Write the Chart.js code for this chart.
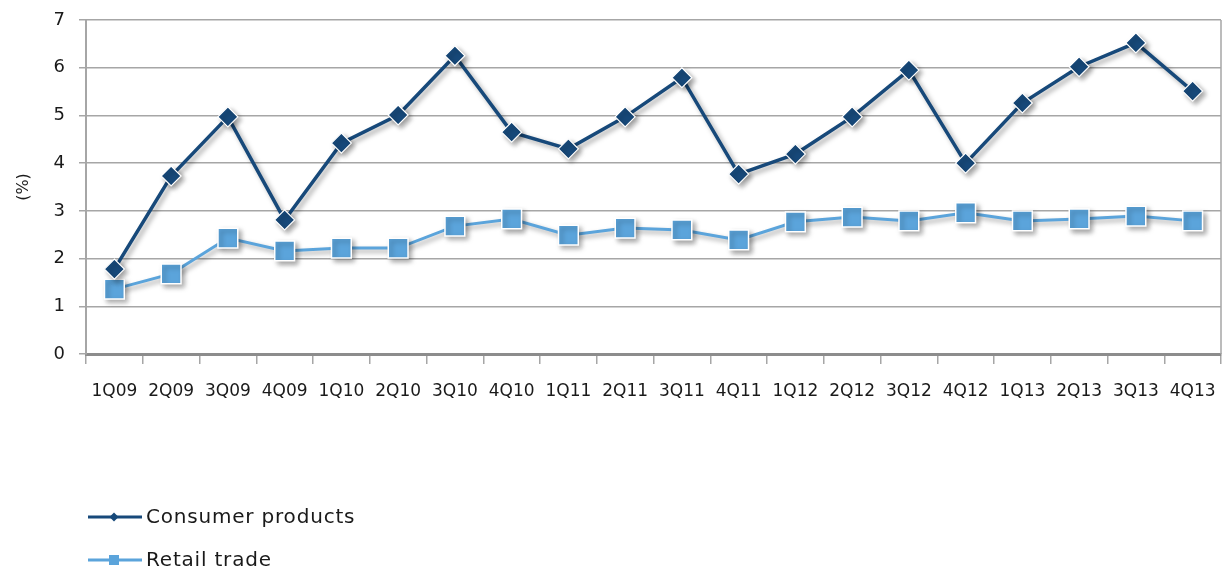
<!DOCTYPE html>
<html>
<head>
<meta charset="utf-8">
<script src="https://cdn.jsdelivr.net/npm/chart.js@4/dist/chart.umd.min.js"></script>
<style>
  html, body { margin: 0; padding: 0; background: #fff; overflow: hidden; }
  #wrap { width: 1222px; height: 580px; position: relative; }
</style>
</head>
<body>
<div id="wrap"><canvas id="growthChart"></canvas></div>
<script>
// quarterly growth, %
const quarters = [
  "1Q09", "2Q09", "3Q09", "4Q09", "1Q10", "2Q10", "3Q10", "4Q10", "1Q11", "2Q11",
  "3Q11", "4Q11", "1Q12", "2Q12", "3Q12", "4Q12", "1Q13", "2Q13", "3Q13", "4Q13"
];
const consumerProducts = [
  1.78, 3.73, 4.97, 2.81, 4.42, 5.01, 6.25, 4.65, 4.30, 4.97,
  5.79, 3.77, 4.19, 4.97, 5.95, 4.00, 5.26, 6.02, 6.52, 5.51
];
const retailTrade = [
  1.36, 1.68, 2.43, 2.16, 2.22, 2.22, 2.68, 2.83, 2.49, 2.64,
  2.60, 2.39, 2.77, 2.87, 2.79, 2.96, 2.79, 2.83, 2.89, 2.79
];
const yTicks = [0, 1, 2, 3, 4, 5, 6, 7];

const DARK = "#17497a";
const LIGHT = "#5ba4db";
const FONT = "'DejaVu Sans', sans-serif";

// soft drop shadow under lines and markers
const shadowPlugin = {
  id: "shadow",
  beforeDatasetsDraw(chart) {
    const ctx = chart.ctx;
    ctx.save();
    ctx.shadowColor = "rgba(0,0,0,0.35)";
    ctx.shadowBlur = 5;
    ctx.shadowOffsetX = 3;
    ctx.shadowOffsetY = 3;
  },
  afterDatasetsDraw(chart) {
    chart.ctx.restore();
  }
};

// right border + legend stacked under the plot
const frameLegendPlugin = {
  id: "frameLegend",
  afterDraw(chart) {
    const ctx = chart.ctx;
    const area = chart.chartArea;
    ctx.save();
    ctx.strokeStyle = "#a6a6a6";
    ctx.lineWidth = 1.5;
    ctx.beginPath();
    ctx.moveTo(area.right, area.top);
    ctx.lineTo(area.right, area.bottom);
    ctx.stroke();

    const rows = [517, 560];
    chart.data.datasets.forEach((ds, i) => {
      const y = rows[i];
      ctx.strokeStyle = ds.borderColor;
      ctx.lineWidth = 3;
      ctx.beginPath();
      ctx.moveTo(88, y);
      ctx.lineTo(142, y);
      ctx.stroke();
      ctx.fillStyle = ds.pointBackgroundColor;
      ctx.beginPath();
      if (ds.pointStyle === "rectRot") {
        ctx.moveTo(114, y - 4.5);
        ctx.lineTo(118.5, y);
        ctx.lineTo(114, y + 4.5);
        ctx.lineTo(109.5, y);
        ctx.closePath();
      } else {
        ctx.rect(109, y - 5, 10, 10);
      }
      ctx.fill();
      ctx.fillStyle = "#1a1a1a";
      ctx.font = "20px " + FONT;
      ctx.letterSpacing = "0.8px";
      ctx.textBaseline = "middle";
      ctx.fillText(ds.label, 146, y + 1);
    });
    ctx.restore();
  }
};

new Chart(document.getElementById("growthChart"), {
  type: "line",
  data: {
    labels: quarters,
    datasets: [
      {
        label: "Consumer products",
        data: consumerProducts,
        borderColor: DARK,
        borderWidth: 3.5,
        pointStyle: "rectRot",
        pointRadius: 10,
        pointBackgroundColor: DARK,
        pointBorderColor: "#ffffff",
        pointBorderWidth: 1.2,
        tension: 0
      },
      {
        label: "Retail trade",
        data: retailTrade,
        borderColor: LIGHT,
        borderWidth: 3,
        pointStyle: "rect",
        pointRadius: 14,
        pointBackgroundColor: LIGHT,
        pointBorderColor: "#ffffff",
        pointBorderWidth: 1.5,
        tension: 0
      }
    ]
  },
  options: {
    responsive: true,
    maintainAspectRatio: false,
    animation: false,
    layout: {
      autoPadding: false,
      padding: { top: 20, right: 1, left: 0, bottom: 0 }
    },
    plugins: {
      legend: { display: false },
      tooltip: { enabled: false }
    },
    scales: {
      x: {
        offset: true,
        afterFit: s => {
          s.height = 226;
          s.paddingLeft = 0;
          s.paddingRight = 0;
        },
        grid: {
          offset: true,
          drawOnChartArea: false,
          drawTicks: true,
          tickLength: 10,
          color: "#a6a6a6",
          lineWidth: 1.5
        },
        border: { color: "#8c8c8c", width: 3 },
        ticks: {
          autoSkip: false,
          maxRotation: 0,
          padding: 17,
          color: "#1a1a1a",
          font: { family: FONT, size: 17 }
        }
      },
      y: {
        min: 0,
        max: 7,
        afterFit: s => {
          s.width = 86;
          s.paddingTop = 0;
          s.paddingBottom = 0;
        },
        afterBuildTicks: s => { s.ticks = yTicks.map(v => ({ value: v })); },
        grid: {
          color: "#a6a6a6",
          lineWidth: 1.5,
          tickLength: 7
        },
        border: { color: "#a6a6a6", width: 2 },
        ticks: {
          padding: 14,
          color: "#1a1a1a",
          font: { family: FONT, size: 18 }
        },
        title: {
          display: true,
          text: "(%)",
          color: "#1a1a1a",
          font: { family: FONT, size: 16 },
          padding: { top: 14, bottom: 0 }
        }
      }
    }
  },
  plugins: [shadowPlugin, frameLegendPlugin]
});
</script>
</body>
</html>
